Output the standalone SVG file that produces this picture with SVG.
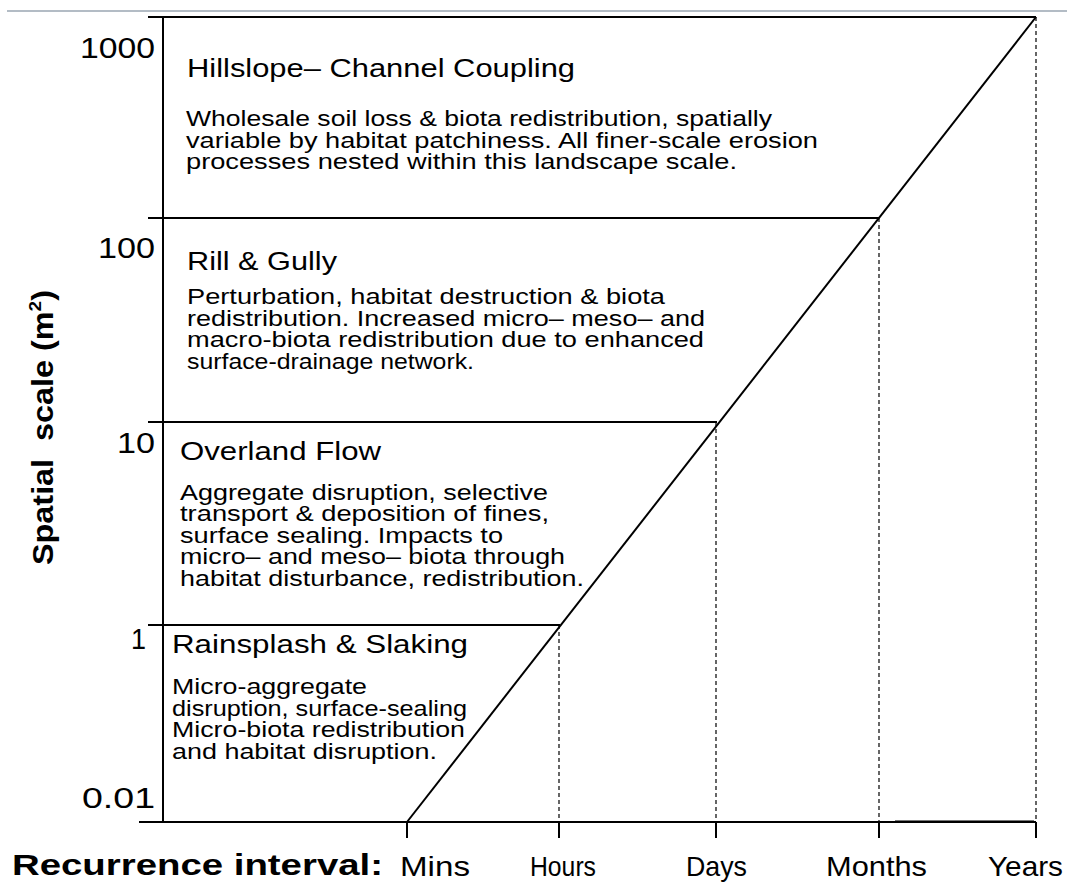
<svg xmlns="http://www.w3.org/2000/svg" width="1067" height="883" viewBox="0 0 1067 883">
<style>
.ax{stroke:#000;stroke-width:2;fill:none}
.dash{stroke:#000;stroke-width:1.2;stroke-dasharray:4,3;fill:none}
text{font-family:"Liberation Sans",Arial,sans-serif;fill:#000}
.num{font-size:29px}
.tl{font-size:26.5px}
.bd{font-size:22.5px}
.xl{font-size:28px}
.bold{font-size:29px;font-weight:bold}
</style>
<rect width="1067" height="883" fill="#fff"/>
<line x1="7" y1="11" x2="1067" y2="11" stroke="#9aa6b2" stroke-width="1.5"/>
<g id="connectors">
<line class="ax" x1="163" y1="16" x2="163" y2="822"/>
<line class="ax" x1="139" y1="822" x2="1036" y2="822"/>
<line x1="895" y1="820.5" x2="1034" y2="820.5" stroke="#777" stroke-width="1"/>
<line class="ax" x1="148" y1="17" x2="1036" y2="17"/>
<line class="ax" x1="148" y1="218" x2="879" y2="218"/>
<line class="ax" x1="148" y1="422" x2="717" y2="422"/>
<line class="ax" x1="148" y1="625" x2="560" y2="625"/>
<line class="ax" x1="407" y1="822" x2="1036" y2="17"/>
<line class="dash" x1="559" y1="625" x2="559" y2="822"/>
<line class="dash" x1="716" y1="422" x2="716" y2="822"/>
<line class="dash" x1="879" y1="218" x2="879" y2="822"/>
<line class="dash" x1="1036" y1="17" x2="1036" y2="822"/>
<line class="ax" x1="407" y1="822" x2="407" y2="838"/>
<line class="ax" x1="559" y1="822" x2="559" y2="838"/>
<line class="ax" x1="716" y1="822" x2="716" y2="838"/>
<line class="ax" x1="879" y1="822" x2="879" y2="838"/>
<line class="ax" x1="1036" y1="822" x2="1036" y2="838"/>
</g>
<g id="yaxis">
<text class="num" x="80" y="58" textLength="75" lengthAdjust="spacingAndGlyphs">1000</text>
<text class="num" x="98" y="258" textLength="57" lengthAdjust="spacingAndGlyphs">100</text>
<text class="num" x="117" y="453" textLength="38" lengthAdjust="spacingAndGlyphs">10</text>
<text class="num" x="131" y="649" textLength="15" lengthAdjust="spacingAndGlyphs">1</text>
<text class="num" x="82" y="808" textLength="73" lengthAdjust="spacingAndGlyphs">0.01</text>
<text class="bold" transform="translate(53,565) rotate(-90)" textLength="275" lengthAdjust="spacingAndGlyphs" xml:space="preserve">Spatial  scale (m<tspan font-size="17" dy="-12">2</tspan><tspan dy="12">)</tspan></text>
</g>
<g id="xaxis">
<text class="bold" x="12" y="875" textLength="371" lengthAdjust="spacingAndGlyphs">Recurrence interval:</text>
<text class="xl" x="400" y="876" textLength="70" lengthAdjust="spacingAndGlyphs">Mins</text>
<text class="xl" x="530" y="876" textLength="66" lengthAdjust="spacingAndGlyphs">Hours</text>
<text class="xl" x="686" y="876" textLength="61" lengthAdjust="spacingAndGlyphs">Days</text>
<text class="xl" x="826" y="876" textLength="101" lengthAdjust="spacingAndGlyphs">Months</text>
<text class="xl" x="988" y="876" textLength="75" lengthAdjust="spacingAndGlyphs">Years</text>
</g>
<g id="hillslope">
<text class="tl" x="187" y="77" textLength="388" lengthAdjust="spacingAndGlyphs">Hillslope– Channel Coupling</text>
<text class="bd" x="186" y="126" textLength="586" lengthAdjust="spacingAndGlyphs">Wholesale soil loss &amp; biota redistribution, spatially</text>
<text class="bd" x="186" y="148" textLength="632" lengthAdjust="spacingAndGlyphs">variable by habitat patchiness. All finer-scale erosion</text>
<text class="bd" x="186" y="169" textLength="551" lengthAdjust="spacingAndGlyphs">processes nested within this landscape scale.</text>
</g>
<g id="rill">
<text class="tl" x="187" y="270" textLength="150" lengthAdjust="spacingAndGlyphs">Rill &amp; Gully</text>
<text class="bd" x="187" y="304" textLength="478" lengthAdjust="spacingAndGlyphs">Perturbation, habitat destruction &amp; biota</text>
<text class="bd" x="187" y="326" textLength="518" lengthAdjust="spacingAndGlyphs">redistribution. Increased micro– meso– and</text>
<text class="bd" x="187" y="347" textLength="517" lengthAdjust="spacingAndGlyphs">macro-biota redistribution due to enhanced</text>
<text class="bd" x="187" y="369" textLength="287" lengthAdjust="spacingAndGlyphs">surface-drainage network.</text>
</g>
<g id="overland">
<text class="tl" x="180" y="460" textLength="201" lengthAdjust="spacingAndGlyphs">Overland Flow</text>
<text class="bd" x="180" y="500" textLength="368" lengthAdjust="spacingAndGlyphs">Aggregate disruption, selective</text>
<text class="bd" x="180" y="521" textLength="369" lengthAdjust="spacingAndGlyphs">transport &amp; deposition of fines,</text>
<text class="bd" x="180" y="543" textLength="323" lengthAdjust="spacingAndGlyphs">surface sealing. Impacts to</text>
<text class="bd" x="180" y="564" textLength="385" lengthAdjust="spacingAndGlyphs">micro– and meso– biota through</text>
<text class="bd" x="180" y="586" textLength="404" lengthAdjust="spacingAndGlyphs">habitat disturbance, redistribution.</text>
</g>
<g id="rainsplash">
<text class="tl" x="172" y="653" textLength="296" lengthAdjust="spacingAndGlyphs">Rainsplash &amp; Slaking</text>
<text class="bd" x="172" y="694" textLength="195" lengthAdjust="spacingAndGlyphs">Micro-aggregate</text>
<text class="bd" x="172" y="716" textLength="295" lengthAdjust="spacingAndGlyphs">disruption, surface-sealing</text>
<text class="bd" x="172" y="737" textLength="293" lengthAdjust="spacingAndGlyphs">Micro-biota redistribution</text>
<text class="bd" x="172" y="759" textLength="265" lengthAdjust="spacingAndGlyphs">and habitat disruption.</text>
</g>
</svg>
